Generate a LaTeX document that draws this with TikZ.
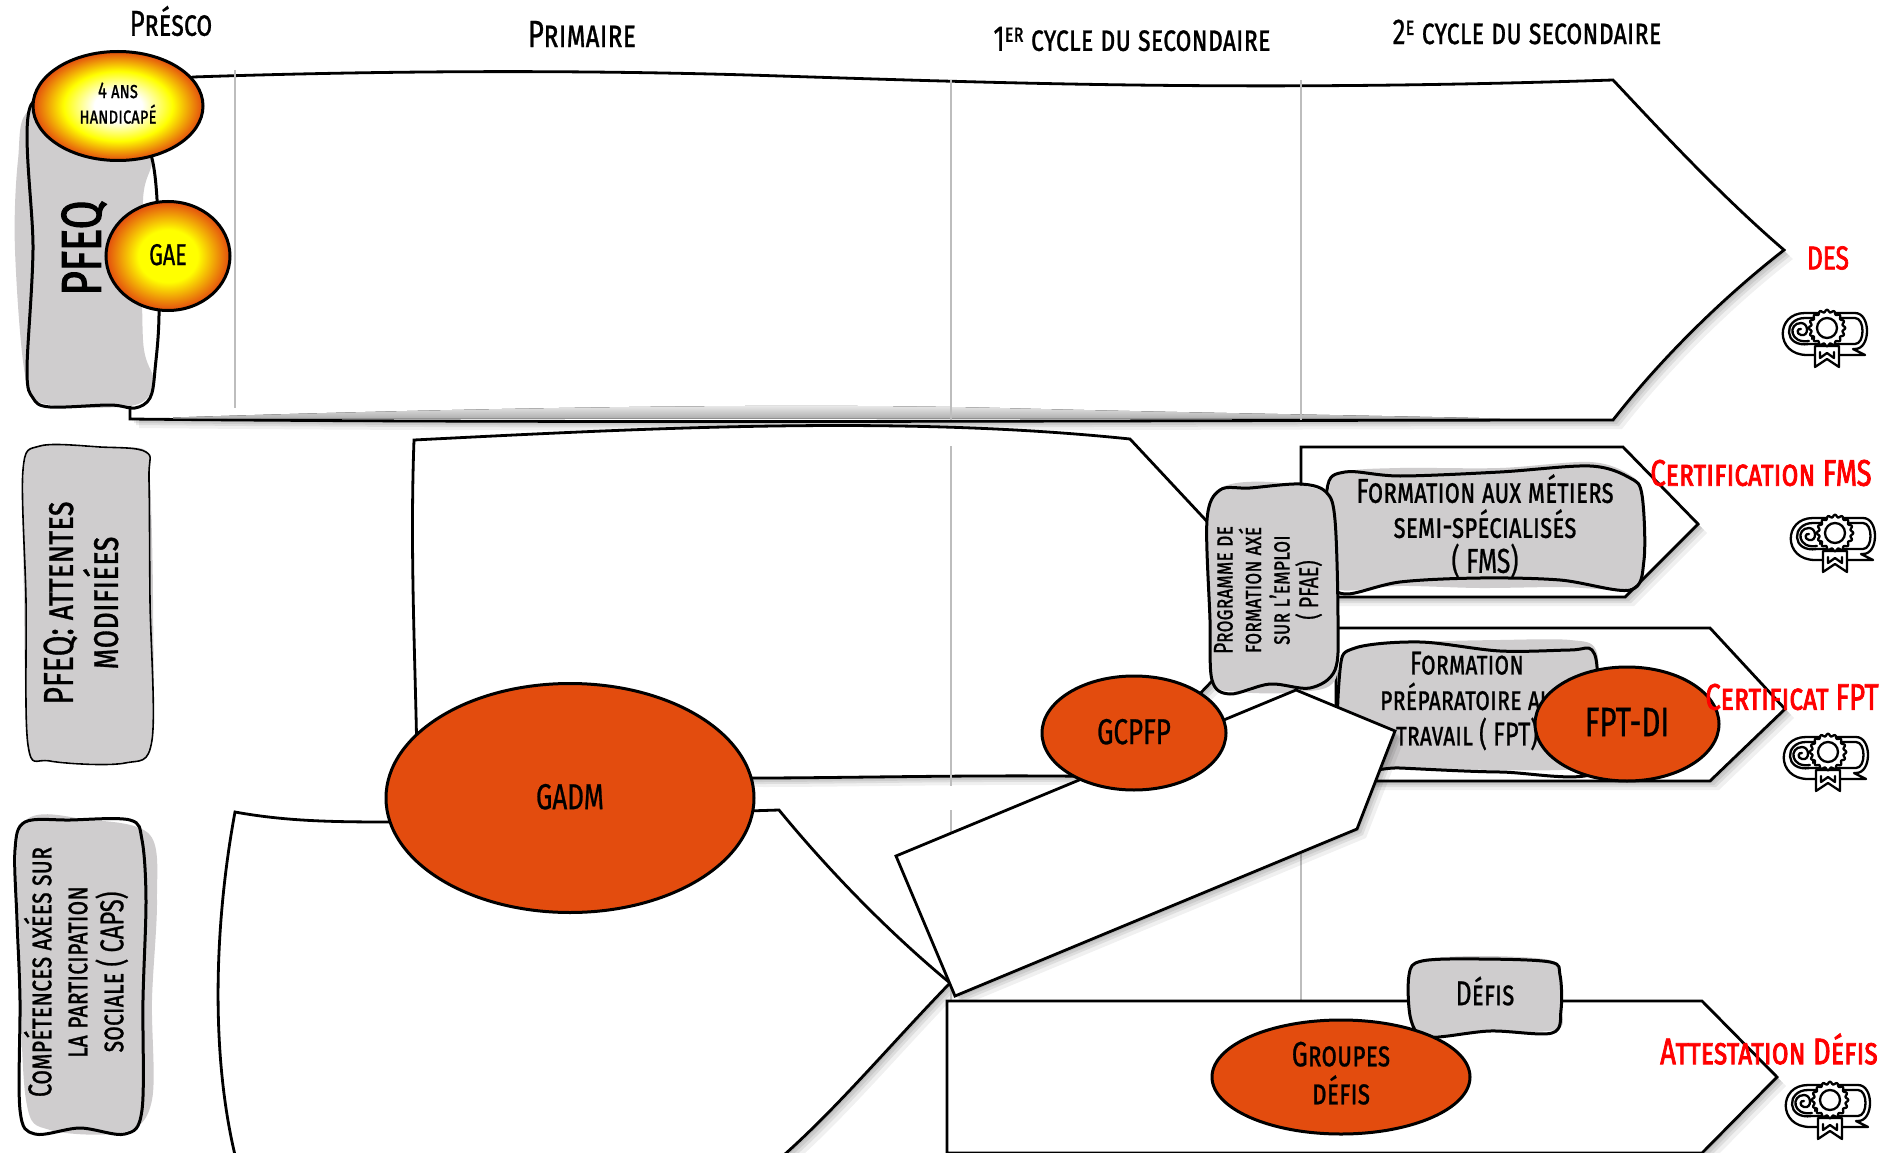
\documentclass[tikz,border=0pt]{standalone}
\usepackage{fontspec}
\usetikzlibrary{shapes.geometric}
\setmainfont[Letters=SmallCaps,FakeStretch=0.72,FakeBold=0.7]{Fira Sans}
\newfontfamily\handbold[Letters=SmallCaps,FakeStretch=0.74,FakeBold=2]{Fira Sans}
\definecolor{boxgrey}{HTML}{CFCDCE}
\definecolor{burnt}{HTML}{E34C0E}
\definecolor{gridgrey}{HTML}{BDBDBD}
\pgfdeclareradialshading{sunA}{\pgfpointorigin}{color(0bp)=(white);color(7bp)=(white);color(16bp)=(yellow);color(25bp)=(burnt);color(50bp)=(burnt)}
\pgfdeclareradialshading{sunB}{\pgfpointorigin}{color(0bp)=(yellow);color(12bp)=(yellow);color(25bp)=(burnt);color(50bp)=(burnt)}
\tikzset{
  softsh/.style={preaction={fill=black,opacity=.08,transform canvas={xshift=2pt,yshift=-2pt}},
                 preaction={fill=black,opacity=.08,transform canvas={xshift=4pt,yshift=-4pt}},
                 preaction={fill=black,opacity=.08,transform canvas={xshift=6pt,yshift=-6pt}},
                 preaction={fill=black,opacity=.06,transform canvas={xshift=9pt,yshift=-9pt}}},
  arrowbox/.style={draw=black,fill=white,line width=2.8pt,line join=miter,softsh},
  sk/.style={draw=black,line width=3pt,line join=round},
  skfill/.style={fill=boxgrey},
  gridline/.style={draw=gridgrey,line width=1.4pt},
  oval/.style={ellipse,draw=black,line width=3pt,inner sep=0pt,align=center,text=black},
  ovalorange/.style={oval,fill=burnt},
  head/.style={font=\fontsize{36}{38}\selectfont,inner sep=0pt},
  lab/.style={font=\fontsize{34.5}{35}\selectfont,inner sep=0pt,align=center},
  reward/.style={text=red,font=\handbold\fontsize{37}{39}\selectfont,inner sep=0pt},
  dline/.style={draw=black,line width=2.3pt,line join=round,line cap=round},
  diploma/.pic={
    \draw[dline,fill=white] (-22,-25) -- (28,-25) .. controls (44,-25) and (44,11) .. (28,11) -- (26,11) -- (38,17) -- (-20,17) .. controls (-52,17) and (-52,-25) .. (-22,-25) -- cycle;
    \draw[dline] (-22,-20) -- (28,-20) .. controls (38,-20) and (38,6) .. (28,6) -- (-18,6) .. controls (-44,10) and (-44,-20) .. (-22,-20);
    \draw[dline] (-18,3) .. controls (-38,6) and (-39,-15) .. (-26,-15) .. controls (-18,-15) and (-18,-1) .. (-26,-3) .. controls (-31,-4) and (-30,-10) .. (-26,-9);
    \draw[dline] (-15,-16) -- (-15,1);
    \draw[dline] (-9,-16) -- (-9,1);
    \draw[dline,fill=white] (-12,8) -- (-12,29) -- (0,21) -- (12,29) -- (12,8) -- cycle;
    \draw[dline] (-7,14) -- (-7,20) -- (0,15) -- (7,20) -- (7,14);
    \draw[dline,fill=white] plot[domain=0:360,samples=97,variable=\t] ({(17+1.3*cos(16*\t))*cos(\t)},{-10+(17+1.3*cos(16*\t))*sin(\t)}) -- cycle;
    \draw[dline] (0,-10) circle (10);
  }
}
\begin{document}
\begin{tikzpicture}[x=1pt,y=-1pt]
\useasboundingbox (0,0) rectangle (1891,1153);
\clip (0,0) rectangle (1891,1153);
% ---- big DES arrow
\path[arrowbox] (130,105) -- (193,77) .. controls (400,70) and (600,70) .. (780,76) .. controls (1000,83) and (1250,92) .. (1613,80)
  .. controls (1660,130) and (1720,195) .. (1784,250) .. controls (1720,300) and (1660,360) .. (1613,420)
  .. controls (1200,420) and (600,424) .. (130,419) -- cycle;
\fill[top color=black!4,bottom color=black!32,draw=none] (173,417.5) .. controls (500,407) and (800,403) .. (1000,408) .. controls (1200,413) and (1400,416) .. (1500,418.5) -- (173,418.5) -- cycle;
% ---- GADM arrow
\path[arrowbox] (414,440) .. controls (650,428) and (900,415) .. (1130,439) -- (1285,605) -- (1120,777) .. controls (1000,774) and (850,778) .. (754,778) -- (417,760) .. controls (415,650) and (410,550) .. (414,440) -- cycle;
% ---- CAPS arrow
\path[arrowbox] (235,812) .. controls (290,822) and (340,822) .. (400,822) -- (779,810) .. controls (820,860) and (880,925) .. (950,983) .. controls (890,1045) and (840,1105) .. (784,1155) -- (235,1155) .. controls (210,1050) and (215,920) .. (235,812) -- cycle;
% ---- grid lines
\draw[gridline] (235,70) -- (235,408);
\draw[gridline] (951,80) -- (951,420);
\draw[gridline] (1301,80) -- (1301,420);
\draw[gridline] (951,446) -- (951,786);
\draw[gridline] (951,810) -- (951,1000);
\draw[gridline] (1301,720) -- (1301,1001);
% ---- FMS arrow
\path[arrowbox] (1301,447) -- (1623,447) -- (1698,524) -- (1625,597) -- (1301,597) -- cycle;
\fill[skfill] plot[smooth cycle,tension=.55] coordinates {(1329,490) (1345,472) (1400,468) (1500,468) (1590,462) (1630,475) (1642,495) (1643,560) (1630,588) (1560,587) (1480,588) (1400,586) (1340,590) (1330,570)};
\draw[sk] plot[smooth cycle,tension=.55] coordinates {(1327,490) (1345,472) (1400,476) (1500,472) (1590,466) (1630,478) (1642,495) (1644,560) (1630,590) (1560,580) (1480,578) (1400,582) (1345,594) (1332,575)};
\node[lab] (fmstxt) at (1485,526) {Formation aux métiers\\semi-spécialisés\\( FMS)};
% ---- FPT arrow
\path[arrowbox] (1336,628) -- (1710,628) -- (1785,709) -- (1710,781) -- (1336,781) -- cycle;
\fill[skfill] plot[smooth cycle,tension=.55] coordinates {(1340,670) (1355,648) (1420,642) (1500,640) (1570,640) (1596,650) (1598,700) (1598,760) (1560,770) (1400,768) (1345,765)};
\draw[sk] plot[smooth cycle,tension=.55] coordinates {(1340,670) (1355,648) (1420,642) (1500,651) (1570,650) (1592,650) (1598,680) (1600,770) (1500,772) (1400,768) (1343,765)};
\node[lab,font=\fontsize{33}{35.5}\selectfont] (fpttxt) at (1467,701) {Formation\\préparatoire au\\travail ( FPT)};
% ---- PFAE
\fill[skfill] plot[smooth cycle,tension=.55] coordinates {(1208,510) (1225,486) (1270,482) (1325,492) (1335,520) (1338,620) (1335,680) (1300,692) (1240,692) (1213,680) (1210,600)};
\draw[sk] plot[smooth cycle,tension=.55] coordinates {(1207,520) (1220,490) (1250,488) (1300,484) (1326,492) (1335,520) (1338,620) (1335,670) (1310,688) (1270,684) (1230,694) (1212,680) (1210,620)};
\node[lab,rotate=90,font=\fontsize{27}{28.5}\selectfont] (pfaetxt) at (1268,590) {Programme de\\formation axé\\sur l’emploi\\( PFAE)};
% ---- white tilted arrow
\path[arrowbox] (896,856) -- (1296,690) -- (1395,731) -- (1357,829) -- (955,996) -- cycle;
% ---- bottom arrow
\path[arrowbox] (947,1001) -- (1702,1001) -- (1777,1077) -- (1702,1153) -- (947,1153) -- cycle;
% ---- Defis box
\fill[skfill] plot[smooth cycle,tension=.55] coordinates {(1410,975) (1420,960) (1480,956) (1550,960) (1560,975) (1562,1010) (1555,1030) (1480,1032) (1425,1035) (1411,1020)};
\draw[sk] plot[smooth cycle,tension=.55] coordinates {(1409,975) (1422,961) (1480,959) (1550,962) (1560,975) (1561,1010) (1552,1033) (1490,1031) (1428,1037) (1411,1020)};
\node[lab] (defistxt) at (1485,991) {Défis};
% ---- left boxes
\fill[skfill] plot[smooth cycle,tension=.55] coordinates {(30,110) (18,160) (15,250) (26,380) (50,405) (135,405) (153,380) (143,340) (143,200) (150,155) (100,110)};
\draw[sk] plot[smooth cycle,tension=.55] coordinates {(31,105) (33,250) (27,370) (33,398) (50,407) (110,405) (135,408) (150,398) (155,370) (159,300) (151,155) (100,115)};
\node[inner sep=0pt,rotate=90,font=\handbold\fontsize{56}{58}\selectfont] (pfeqtxt) at (84,248) {PFEQ};
\fill[skfill] plot[smooth cycle,tension=.55] coordinates {(24,470) (40,446) (100,448) (145,450) (150,480) (153,600) (151,740) (125,762) (50,760) (28,745) (24,600)};
\draw[sk,line width=1.6pt] plot[smooth cycle,tension=.55] coordinates {(23,470) (40,446) (100,447) (146,452) (149,480) (150,600) (152,740) (125,763) (50,761) (28,745) (26,600)};
\node[lab,rotate=90,font=\fontsize{42}{45}\selectfont] (pfeqatxt) at (81,603) {PFEQ: attentes\\modifiées};
\fill[skfill] plot[smooth cycle,tension=.55] coordinates {(22,825) (90,820) (150,835) (157,900) (152,1000) (152,1100) (125,1132) (50,1130) (26,1100) (20,950)};
\draw[sk] plot[smooth cycle,tension=.55] coordinates {(15,850) (25,822) (70,820) (130,820) (142,840) (146,900) (143,1000) (142,1110) (125,1134) (80,1128) (35,1134) (20,1110) (20,1000) (17,920)};
\node[lab,rotate=90,font=\fontsize{33}{36}\selectfont] (capstxt) at (76,972) {Compétences axées sur\\la participation\\sociale ( CAPS)};
% ---- ovals
\node[oval,shade,shading=sunA,minimum width=170pt,minimum height=109pt,text depth=6pt,font=\fontsize{23}{25.5}\selectfont] (ans) at (118,106) {4 ans\\handicapé};
\node[oval,shade,shading=sunB,minimum width=124pt,minimum height=109pt,font=\fontsize{30}{32}\selectfont] (gae) at (168,256) {\raisebox{3pt}{GAE}};
\node[ovalorange,minimum width=368pt,minimum height=229pt,font=\fontsize{36}{38}\selectfont] (gadm) at (570,798) {\raisebox{3pt}{GADM}};
\node[ovalorange,minimum width=184pt,minimum height=114pt,font=\fontsize{36}{38}\selectfont] (gcpfp) at (1134,733) {\raisebox{3pt}{GCPFP}};
\node[ovalorange,minimum width=184pt,minimum height=114pt,font=\fontsize{41}{43}\selectfont] (fptdi) at (1627,724) {\raisebox{4pt}{FPT-DI}};
\node[ovalorange,minimum width=258pt,minimum height=114pt,text depth=8pt,font=\fontsize{35}{38}\selectfont] (groupes) at (1341,1077) {Groupes\\défis};
% ---- headers
\node[head,font=\fontsize{36}{38}\selectfont] (presco) at (171,21) {Présco};
\node[head,font=\fontsize{38}{40}\selectfont] (primaire) at (582,34) {Primaire};
\node[head] (cyc1) at (1132,39) {1\textsuperscript{er} cycle du secondaire};
\node[head] (cyc2) at (1527,32) {2\textsuperscript{e} cycle du secondaire};
% ---- rewards
\node[reward,font=\handbold\fontsize{33}{35}\selectfont] (des) at (1828,258) {DES};
\node[reward] (fms) at (1761,473) {Certification FMS};
\node[reward] (fpt) at (1792,697) {Certificat FPT};
\node[reward] (att) at (1769,1049) {Attestation Défis};
\pic at (1827,338) {diploma};
\pic at (1835,543) {diploma};
\pic at (1828,762) {diploma};
\pic at (1830,1110) {diploma};
\end{tikzpicture}
\end{document}
